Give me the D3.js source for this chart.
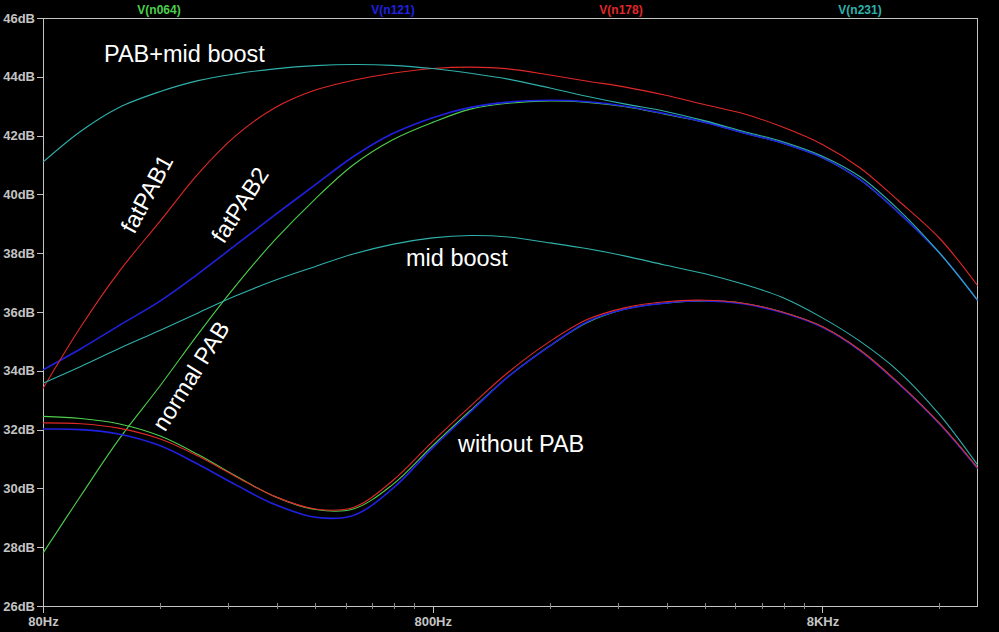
<!DOCTYPE html>
<html>
<head>
<meta charset="utf-8">
<script src="https://cdn.jsdelivr.net/npm/d3@7"></script>
<style>
  body { margin: 0; background: #000; }
  svg { display: block; }
</style>
</head>
<body>
<div id="chart"></div>
<script>
// frequency grid (Hz) shared by every trace
const freqs = [80, 100, 125, 160, 200, 250, 315, 400, 500, 630, 800, 1000, 1250,
  1600, 2000, 2500, 3150, 4000, 5000, 6300, 8000, 10000, 12500, 16000, 20000];

// upper group (with PAB)
const normalPAB = [27.8, 29.75, 31.65, 33.5, 35.25, 36.9, 38.45, 39.85, 41.0, 41.85, 42.45, 42.9, 43.1,
  43.18, 43.13, 42.98, 42.73, 42.45, 42.1, 41.75, 41.25, 40.5, 39.4, 38.0, 36.4];
const fatPAB2 = [34.03, 34.75, 35.53, 36.38, 37.3, 38.28, 39.3, 40.33, 41.28, 42.06, 42.61, 42.96, 43.14,
  43.2, 43.15, 43.0, 42.75, 42.45, 42.1, 41.75, 41.25, 40.5, 39.4, 38.0, 36.4];
const fatPAB1 = [33.4, 35.5, 37.35, 39.1, 40.7, 42.0, 42.95, 43.55, 43.88, 44.12, 44.28, 44.33, 44.27,
  44.06, 43.85, 43.65, 43.38, 43.05, 42.75, 42.3, 41.7, 40.9, 39.8, 38.5, 36.9];
const pabMidBoost = [41.1, 42.15, 42.95, 43.5, 43.87, 44.1, 44.27, 44.38, 44.42, 44.39, 44.28, 44.12, 43.92,
  43.62, 43.33, 43.07, 42.83, 42.5, 42.15, 41.8, 41.3, 40.6, 39.5, 38.0, 36.4];

// lower group (without PAB / mid boost only)
const noPabGreen = [32.45, 32.38, 32.2, 31.78, 31.15, 30.42, 29.72, 29.28, 29.3, 30.12, 31.45, 32.65, 33.8,
  34.85, 35.65, 36.1, 36.3, 36.38, 36.3, 36.0, 35.5, 34.7, 33.6, 32.2, 30.7];
const noPabBlue = [32.02, 32.0, 31.85, 31.45, 30.82, 30.12, 29.45, 29.02, 29.08, 29.98, 31.38, 32.6, 33.8,
  34.85, 35.68, 36.1, 36.3, 36.38, 36.28, 35.98, 35.48, 34.68, 33.58, 32.18, 30.68];
const noPabRed = [32.23, 32.2, 32.05, 31.68, 31.1, 30.4, 29.72, 29.3, 29.35, 30.25, 31.6, 32.8, 33.95,
  35.0, 35.75, 36.15, 36.35, 36.4, 36.3, 36.0, 35.5, 34.7, 33.6, 32.2, 30.7];
const midBoost = [33.58, 34.15, 34.75, 35.38, 35.97, 36.55, 37.08, 37.55, 37.97, 38.3, 38.52, 38.6, 38.55,
  38.35, 38.15, 37.9, 37.6, 37.3, 36.95, 36.5, 35.8, 35.0, 34.0, 32.5, 30.8];

const traceNames = ["V(n064)", "V(n121)", "V(n178)", "V(n231)"];
const traceColors = ["#4ccf4c", "#2020e0", "#e02828", "#2fb0aa"];

const yTicks = [26, 28, 30, 32, 34, 36, 38, 40, 42, 44, 46];
const xMajor = [80, 800, 8000];
const xMajorLabels = ["80Hz", "800Hz", "8KHz"];
const xMinor = [160, 240, 320, 400, 480, 560, 640, 720,
  1600, 2400, 3200, 4000, 4800, 5600, 6400, 7200, 16000];

let svgWidth = 999;
let svgHeight = 632;

let svg = d3.select("#chart").append("svg")
  .attr("width", svgWidth)
  .attr("height", svgHeight)
  .style("background", "#000");

let x = d3.scaleLog().domain([80, 20000]).range([43, 977.5]);
let y = d3.scaleLinear().domain([26, 46]).range([606, 18]);

let axisColor = "#c4c4c4";

// frame
svg.append("rect")
  .attr("x", x(80)).attr("y", y(46))
  .attr("width", x(20000) - x(80)).attr("height", y(26) - y(46))
  .attr("fill", "none").attr("stroke", axisColor).attr("stroke-width", 1)
  .attr("shape-rendering", "crispEdges");

// y axis
let yAxis = d3.axisLeft(y).tickValues(yTicks).tickSize(6).tickPadding(2)
  .tickFormat(d => d + "dB");
let gy = svg.append("g").attr("transform", `translate(${x(80)},0)`).call(yAxis);
gy.select(".domain").remove();

// x axis major
let xAxis = d3.axisBottom(x).tickValues(xMajor).tickSize(7).tickPadding(4)
  .tickFormat((d, i) => xMajorLabels[i]);
let gx = svg.append("g").attr("transform", `translate(0,${y(26)})`).call(xAxis);
gx.select(".domain").remove();

// x axis minor ticks
svg.append("g").selectAll("line")
  .data(xMinor).enter().append("line")
  .attr("x1", d => x(d)).attr("x2", d => x(d))
  .attr("y1", y(26) - 3).attr("y2", y(26) + 3)
  .attr("stroke", "#8a8a8a").attr("shape-rendering", "crispEdges");

[gx, gy].forEach(g => {
  g.selectAll("line").attr("stroke", axisColor).attr("shape-rendering", "crispEdges");
  g.selectAll("text")
    .attr("fill", axisColor)
    .style("font-family", "'Liberation Sans', Arial, sans-serif")
    .style("font-weight", "bold")
    .style("font-size", "13px");
});

// trace name labels on top
svg.append("g").selectAll("text")
  .data(traceNames).enter().append("text")
  .attr("x", (d, i) => [159, 393, 621, 860][i])
  .attr("y", 14)
  .attr("text-anchor", "middle")
  .attr("fill", (d, i) => traceColors[i])
  .style("font-family", "'Liberation Sans', Arial, sans-serif")
  .style("font-weight", "bold")
  .style("font-size", "12px")
  .text(d => d);

// curves
let line = d3.line()
  .x((d, i) => x(freqs[i]))
  .y(d => y(d))
  .curve(d3.curveCatmullRom.alpha(0.5));

let curves = [
  { values: noPabGreen, color: 0 },
  { values: normalPAB, color: 0 },
  { values: noPabBlue, color: 1 },
  { values: fatPAB2, color: 1 },
  { values: noPabRed, color: 2 },
  { values: fatPAB1, color: 2 },
  { values: midBoost, color: 3 },
  { values: pabMidBoost, color: 3 }
];

svg.append("g")
  .selectAll("path")
  .data(curves).enter().append("path")
  .attr("d", d => line(d.values))
  .attr("fill", "none")
  .attr("stroke", d => traceColors[d.color])
  .attr("stroke-width", d => d.color == 1 ? 1.6 : 1.1);

// annotations
let notes = [
  { text: "PAB+mid boost", x: 104, y: 62, rot: 0, anchor: "start" },
  { text: "mid boost", x: 406, y: 266, rot: 0, anchor: "start" },
  { text: "without PAB", x: 458, y: 452, rot: 0, anchor: "start" },
  { text: "fatPAB1", x: 147, y: 194, rot: -62, anchor: "middle" },
  { text: "fatPAB2", x: 240, y: 205, rot: -57, anchor: "middle" },
  { text: "normal PAB", x: 191, y: 376, rot: -58, anchor: "middle" }
];

svg.append("g").selectAll("text")
  .data(notes).enter().append("text")
  .attr("transform", d => `translate(${d.x},${d.y}) rotate(${d.rot})`)
  .attr("text-anchor", d => d.anchor)
  .attr("dominant-baseline", d => d.rot ? "central" : "auto")
  .attr("fill", "#ffffff")
  .style("font-family", "'Liberation Sans', Arial, sans-serif")
  .style("font-size", "23.5px")
  .text(d => d.text);
</script>
</body>
</html>
